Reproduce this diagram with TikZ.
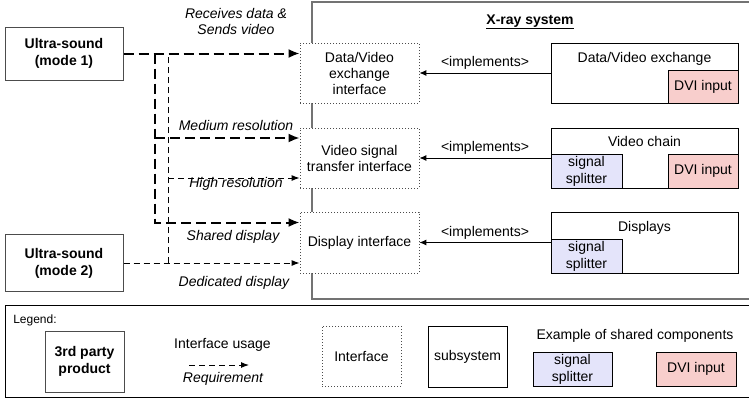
\documentclass[tikz,border=0pt]{standalone}
\usepackage{fontspec}
\setmainfont{Liberation Sans}
\usetikzlibrary{arrows.meta,positioning}

\definecolor{splitcol}{RGB}{228,228,250}
\definecolor{dvicol}{RGB}{248,206,204}

\tikzset{
  base/.style={font=\fontsize{14}{16}\selectfont, align=center, inner sep=2pt},
  lbl/.style={base, font=\fontsize{14}{16}\selectfont\itshape},
  party/.style={base, draw=black!70, fill=white, line width=1pt,
    font=\fontsize{14}{17}\selectfont\bfseries},
  iface/.style={base, draw=black!70, fill=white, line width=0.8pt,
    dash pattern=on 1pt off 2pt, minimum width=119pt, minimum height=60pt},
  subsys/.style={base, draw, fill=white, line width=0.8pt,
    minimum width=187pt, minimum height=60pt},
  splitter/.style={base, draw, fill=splitcol, line width=0.8pt, inner ysep=1pt,
    font=\fontsize{14}{17}\selectfont, minimum width=71pt, minimum height=34pt},
  dvi/.style={base, draw, fill=dvicol, line width=0.8pt,
    minimum width=70pt, minimum height=33pt},
  sysbox/.style={draw=black!55, line width=1.6pt},
  legbox/.style={draw, line width=0.9pt},
  usage/.style={line width=2pt, dash pattern=on 10pt off 5pt,
    -{Latex[length=11pt,width=9pt]}},
  usagethin/.style={line width=1pt, dash pattern=on 6pt off 4pt,
    -{Latex[length=8pt,width=6pt]}},
  impl/.style={line width=0.9pt, -{Latex[length=7pt,width=6pt]}}
}

\begin{document}
\begin{tikzpicture}[x=1pt,y=-1pt]
  \useasboundingbox (0,0) rectangle (749,399);
  % frames
  \node[sysbox, minimum width=460pt, minimum height=297pt] (xray) at (542,150.5) {};
  \node[base, font=\fontsize{14}{16}\selectfont\bfseries] (xtitle) at (530,22) {\underline{X-ray system}};
  \node[legbox, minimum width=780pt, minimum height=92pt] (legend) at (395,351) {};

  % interfaces
  \node[iface] (dvif) at (359.5,73) {Data/Video\\exchange\\interface};
  \node[iface] (vsif) at (359.5,158) {Video signal\\transfer interface};
  \node[iface, minimum height=61pt] (dispif) at (359.5,242.5) {Display interface};

  % subsystems
  \node[subsys] (dvx) at (644.5,73) {};
  \node[base, anchor=base] (dvxt) at ([yshift=-20pt]dvx.north) {Data/Video exchange};
  \node[dvi, anchor=south east] (dvxdvi) at (dvx.south east) {DVI input};

  \node[subsys] (vc) at (644.5,158) {};
  \node[base, anchor=base] (vct) at ([yshift=-19pt]vc.north) {Video chain};
  \node[splitter, anchor=south west] (vcsplit) at (vc.south west) {signal\\splitter};
  \node[dvi, minimum height=34pt, anchor=south east] (vcdvi) at (vc.south east) {DVI input};

  \node[subsys, minimum height=61pt] (disp) at (644.5,242.5) {};
  \node[base, anchor=base] (dispt) at ([yshift=-20pt]disp.north) {Displays};
  \node[splitter, anchor=south west] (dispsplit) at (disp.south west) {signal\\splitter};

  % implements
  \draw[impl] (dvx.west) -- node[base, above=1pt] {<implements>} (dvif.east);
  \draw[impl] (vc.west) -- node[base, above=1pt] {<implements>} (vsif.east);
  \draw[impl] (disp.west) -- node[base, above=1pt] {<implements>} (dispif.east);

  % products
  \node[party, minimum width=118pt, minimum height=53pt] (us1) at (64,53.5) {Ultra-sound\\(mode 1)};
  \node[party, minimum width=118pt, minimum height=57pt] (us2) at (64,263) {Ultra-sound\\(mode 2)};

  % usage of mode 2
  \coordinate (sp2) at (168,263);
  \coordinate (highres) at ([yshift=-20pt]vsif.west);
  \draw[usagethin] (us2.east) -- (us2.east -| dispif.west);
  \draw[usagethin, -] (sp2) -- (sp2 |- us1.east);
  \draw[usagethin] (sp2 |- highres) -- (highres);

  % usage of mode 1
  \coordinate (sp1) at (155,53.5);
  \coordinate (medres) at ([yshift=20pt]vsif.west);
  \coordinate (shared) at ([yshift=20pt]dispif.west);
  \draw[usage] (us1.east) -- (us1.east -| dvif.west);
  \draw[usage] (sp1) |- (shared);
  \draw[usage] (sp1 |- medres) -- (medres);

  % requirements
  \node[lbl] (lrecv) at (236,21) {Receives data \&\\Sends video};
  \node[lbl] (lmed) at (236,125) {Medium resolution};
  \node[lbl] (lhigh) at (236,184) {High resolution};
  \node[lbl] (lshared) at (233,237) {Shared display};
  \node[lbl] (lded) at (234,283) {Dedicated display};

  % legend
  \node[base, font=\fontsize{12}{14}\selectfont] (legt) at (35,320) {Legend:};
  \node[party, minimum width=79pt, minimum height=61pt] (lparty) at (84.5,361.5) {3rd party\\product};
  \node[base] (lusage) at (222.5,345) {Interface usage};
  \coordinate (la) at (189,365);
  \coordinate (lb) at (249,365);
  \draw[usagethin] (la) -- (lb);
  \node[lbl] (lreq) at (223,379) {Requirement};
  \node[iface, minimum width=79pt] (liface) at (361.5,356) {Interface};
  \node[subsys, minimum width=79pt, minimum height=61pt] (lsub) at (467.5,356.5) {subsystem};
  \node[base] (lexample) at (635,336) {Example of shared components};
  \node[splitter, minimum width=79pt] (lsplit) at (572.5,369) {signal\\splitter};
  \node[dvi, minimum width=80pt, minimum height=34pt] (ldvi) at (696,369) {DVI input};
\end{tikzpicture}
\end{document}
